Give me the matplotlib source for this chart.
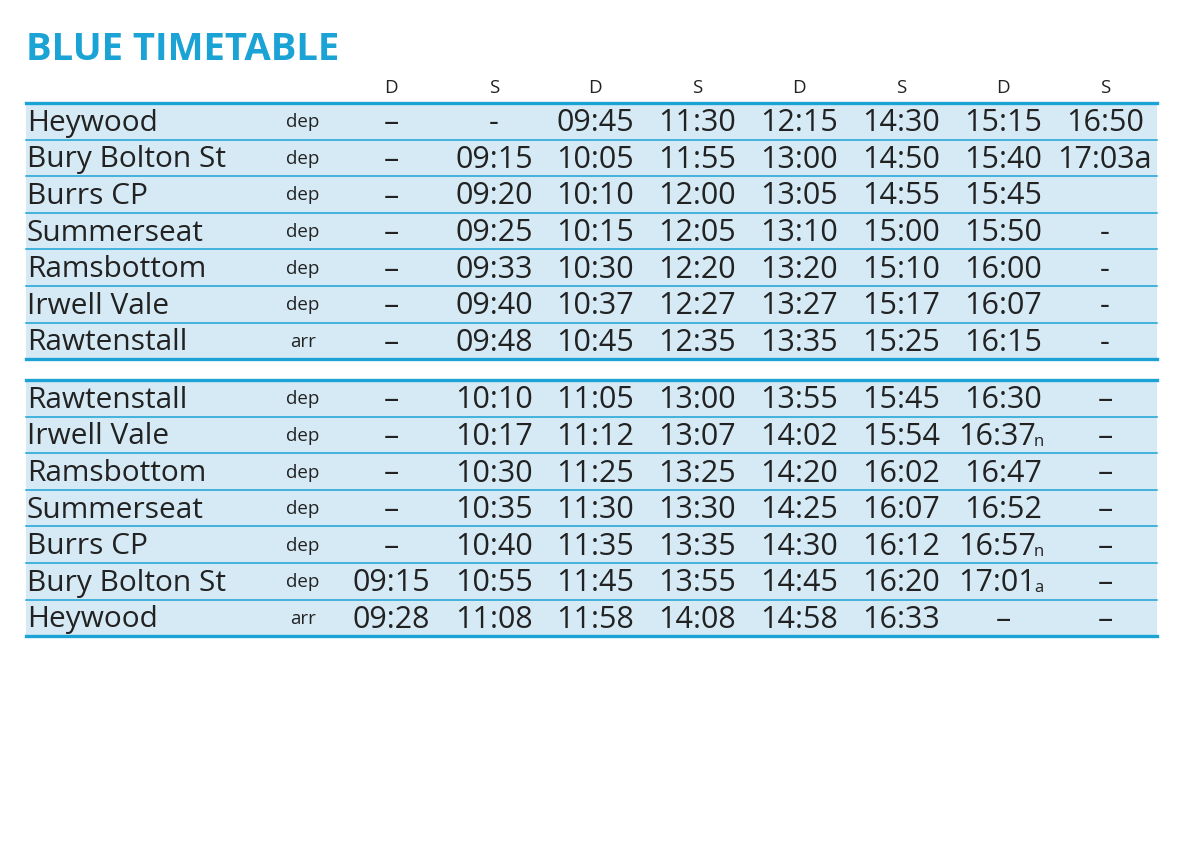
import matplotlib
matplotlib.use("Agg")
import matplotlib.pyplot as plt
from matplotlib.patches import Rectangle

title = "BLUE TIMETABLE"
day_codes = ["D", "S", "D", "S", "D", "S", "D", "S"]

stations_up = ["Heywood", "Bury Bolton St", "Burrs CP", "Summerseat", "Ramsbottom", "Irwell Vale", "Rawtenstall"]
kind_up = ["dep", "dep", "dep", "dep", "dep", "dep", "arr"]
times_up = [
    ["–", "-", "09:45", "11:30", "12:15", "14:30", "15:15", "16:50"],
    ["–", "09:15", "10:05", "11:55", "13:00", "14:50", "15:40", "17:03a"],
    ["–", "09:20", "10:10", "12:00", "13:05", "14:55", "15:45", ""],
    ["–", "09:25", "10:15", "12:05", "13:10", "15:00", "15:50", "-"],
    ["–", "09:33", "10:30", "12:20", "13:20", "15:10", "16:00", "-"],
    ["–", "09:40", "10:37", "12:27", "13:27", "15:17", "16:07", "-"],
    ["–", "09:48", "10:45", "12:35", "13:35", "15:25", "16:15", "-"],
]

stations_down = ["Rawtenstall", "Irwell Vale", "Ramsbottom", "Summerseat", "Burrs CP", "Bury Bolton St", "Heywood"]
kind_down = ["dep", "dep", "dep", "dep", "dep", "dep", "arr"]
times_down = [
    ["–", "10:10", "11:05", "13:00", "13:55", "15:45", "16:30", "–"],
    ["–", "10:17", "11:12", "13:07", "14:02", "15:54", "16:37|n", "–"],
    ["–", "10:30", "11:25", "13:25", "14:20", "16:02", "16:47", "–"],
    ["–", "10:35", "11:30", "13:30", "14:25", "16:07", "16:52", "–"],
    ["–", "10:40", "11:35", "13:35", "14:30", "16:12", "16:57|n", "–"],
    ["09:15", "10:55", "11:45", "13:55", "14:45", "16:20", "17:01|a", "–"],
    ["09:28", "11:08", "11:58", "14:08", "14:58", "16:33", "–", "–"],
]

BLUE = "#1aa3d4"
FILL = "#d6eaf6"
TXT = "#222222"
FONT = "Open Sans"

fig = plt.figure(figsize=(12, 8.48), dpi=100)
ax = fig.add_axes([0, 0, 1, 1])
ax.set_xlim(0, 1200)
ax.set_ylim(848, 0)
ax.axis("off")

X0, X1 = 26, 1157
col_x = [391, 494, 595, 697, 799, 901, 1003, 1105]
row_h = 36.6

ax.text(X0, 50, title, fontsize=27.5, fontweight="bold", color=BLUE, family=FONT,
        va="center", ha="left")
for c, d in zip(col_x, day_codes):
    ax.text(c, 88, d, fontsize=13.5, color=TXT, family=FONT, ha="center", va="center")


def section(top, names, kinds, times):
    n = len(names)
    ax.add_patch(Rectangle((X0, top), X1 - X0, n * row_h, color=FILL, lw=0))
    for i in range(1, n):
        y = top + i * row_h
        ax.plot([X0, X1], [y, y], color=BLUE, lw=1.1)
    ax.plot([X0, X1], [top, top], color=BLUE, lw=2.4)
    ax.plot([X0, X1], [top + n * row_h, top + n * row_h], color=BLUE, lw=2.4)
    for i in range(n):
        yc = top + (i + 0.5) * row_h + 2
        ax.text(X0 + 1, yc, names[i], fontsize=21.5, color=TXT, family=FONT, ha="left", va="center")
        ax.text(303, yc - 1, kinds[i], fontsize=13.5, color=TXT, family=FONT, ha="center", va="center")
        for c, t in zip(col_x, times[i]):
            if "|" in t:
                main, suf = t.split("|")
                tx = ax.text(c - 6, yc, main, fontsize=22, color=TXT, family=FONT, ha="center", va="center")
                ax.annotate(suf, xy=(1, 0.2), xycoords=tx, xytext=(-1.5, 0), textcoords="offset points",
                            fontsize=12, color=TXT, family=FONT, ha="left", va="baseline")
            else:
                ax.text(c, yc, t, fontsize=22, color=TXT, family=FONT, ha="center", va="center")


section(103, stations_up, kind_up, times_up)
section(380, stations_down, kind_down, times_down)

fig.savefig("out.png", dpi=100, facecolor="white")
